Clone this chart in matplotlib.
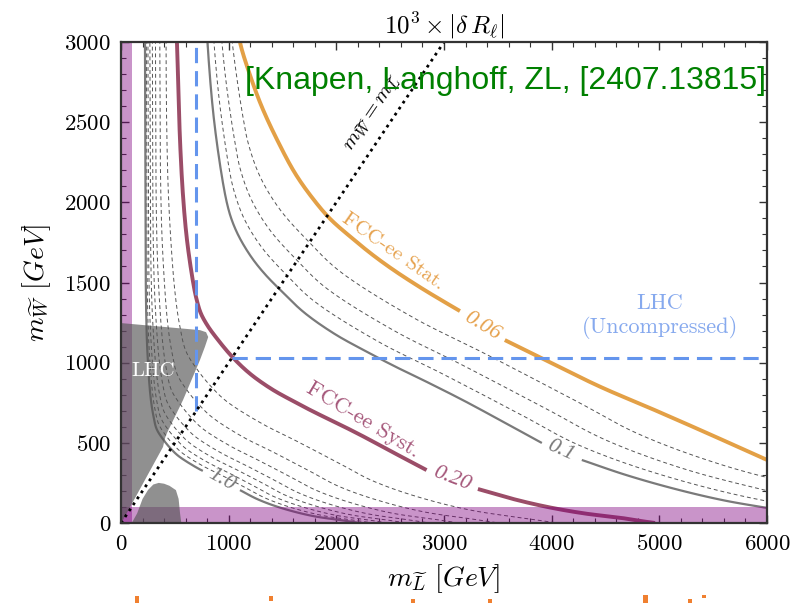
import numpy as np
import matplotlib
matplotlib.use("Agg")
import matplotlib.pyplot as plt
from matplotlib.patches import Polygon, Rectangle
from matplotlib.ticker import MultipleLocator

plt.rcParams['font.family'] = ['cmr10', 'DejaVu Serif']
plt.rcParams['mathtext.fontset'] = 'cm'
plt.rcParams['axes.formatter.use_mathtext'] = True
plt.rcParams['axes.unicode_minus'] = False

# ---------------- data (GeV) ----------------
x_ticks = [0, 1000, 2000, 3000, 4000, 5000, 6000]
y_ticks = [0, 500, 1000, 1500, 2000, 2500, 3000]

# FCC-ee Stat. contour (0.06), split at its label
stat_a = [(1090, 3100), (1105, 3000), (1200, 2790), (1309, 2594), (1450, 2390), (1616, 2182),
          (1780, 2025), (1941, 1898), (2140, 1780), (2340, 1671), (2540, 1574), (2776, 1471),
          (2950, 1400), (3148, 1322)]
stat_b = [(3565, 1141), (3960, 1010), (4450, 850), (4958, 704), (5480, 550), (6000, 393), (6100, 365)]

# FCC-ee Syst. contour (0.20), split at its label
syst_a = [(510, 3200), (520, 3000), (533, 2700), (548, 2388), (575, 2050), (613, 1764), (670, 1500),
          (700, 1400), (740, 1310), (800, 1235), (880, 1160), (1035, 1035), (1200, 930), (1400, 835),
          (1600, 760), (1800, 690), (2000, 625), (2250, 540), (2500, 450), (2838, 330)]
syst_b = [(3315, 212), (3640, 150), (3960, 100), (4300, 60), (4652, 31), (4850, 10), (4960, 0)]

# solid grey contours 0.1 and 1.0, split at their labels
c010_a = [(775, 3377), (813, 2899), (867, 2495), (947, 2121), (993, 1970), (1031, 1886), (1084, 1802),
          (1153, 1718), (1238, 1633), (1341, 1549), (1464, 1464), (1697, 1315), (1980, 1181),
          (2263, 1075), (2546, 976), (2828, 884), (3182, 764), (3536, 636), (3909, 499)]
c010_b = [(4280, 393), (4688, 300), (5148, 212), (5600, 141), (6081, 85)]
c100_a = [(222, 3130), (224, 2683), (227, 2012), (233, 1342), (245, 1068), (274, 789), (300, 671),
          (331, 586), (394, 519), (463, 463), (537, 416), (716, 340), (760, 325)]
c100_b = [(1105, 205), (1269, 148), (1482, 95), (1771, 45), (2080, 14), (2218, 0)]

# dashed grey contours
c007 = [(926, 4036), (972, 3465), (1036, 2982), (1132, 2535), (1187, 2355), (1296, 2154), (1480, 1952),
        (1750, 1750), (2028, 1572), (2704, 1285), (3381, 1056), (4226, 761), (4797, 558), (5603, 358),
        (6694, 169)]
c008 = [(866, 3776), (909, 3241), (969, 2789), (1059, 2371), (1110, 2202), (1212, 2015), (1384, 1826),
        (1637, 1637), (1897, 1470), (2530, 1202), (3162, 988), (3953, 711), (4487, 522), (5241, 335),
        (6261, 158)]
c009 = [(817, 3560), (857, 3056), (914, 2630), (998, 2236), (1047, 2077), (1143, 1899), (1305, 1721),
        (1543, 1543), (1789, 1386), (2385, 1133), (2981, 932), (3727, 671), (4231, 492), (4942, 316),
        (5903, 149), (6935, 46)]
c030 = [(408, 4899), (415, 3674), (425, 2450), (447, 1950), (501, 1440), (547, 1225), (604, 1070),
        (719, 947), (845, 845), (980, 759), (1306, 621), (1633, 510), (2041, 367), (2317, 269),
        (2707, 173), (3233, 82), (3798, 25), (4050, 0)]
c040 = [(354, 4243), (359, 3182), (368, 2121), (387, 1689), (433, 1247), (474, 1061), (523, 926),
        (622, 820), (732, 732), (849, 658), (1131, 537), (1414, 442), (1768, 318), (2007, 233),
        (2344, 150), (2800, 71), (3289, 22), (3507, 0)]
c050 = [(316, 3795), (321, 2846), (329, 1898), (347, 1510), (388, 1116), (424, 949), (468, 829),
        (557, 734), (655, 655), (759, 588), (1012, 481), (1265, 395), (1581, 285), (1795, 209),
        (2097, 134), (2505, 63), (2942, 20), (3137, 0)]
c060 = [(289, 3464), (293, 2598), (300, 1732), (316, 1379), (354, 1019), (387, 866), (427, 756),
        (508, 670), (598, 598), (693, 537), (924, 439), (1155, 361), (1444, 260), (1639, 191),
        (1914, 122), (2286, 58), (2686, 18), (2864, 0)]
c070 = [(267, 3207), (272, 2405), (278, 1604), (293, 1276), (328, 943), (358, 802), (396, 700),
        (470, 620), (553, 553), (641, 497), (855, 406), (1069, 334), (1336, 241), (1517, 176),
        (1772, 113), (2117, 53), (2487, 17), (2651, 0)]
c080 = [(249, 3500), (250, 3000), (254, 2250), (260, 1500), (274, 1194), (307, 882), (335, 750),
        (370, 655), (440, 580), (518, 518), (600, 465), (800, 380), (1000, 313), (1250, 225),
        (1419, 165), (1658, 106), (1980, 50), (2326, 16), (2480, 0)]
c090 = [(234, 3300), (236, 2828), (239, 2121), (245, 1414), (258, 1126), (289, 832), (316, 707),
        (349, 618), (415, 547), (488, 488), (566, 438), (754, 358), (943, 295), (1179, 212),
        (1338, 156), (1563, 100), (1867, 47), (2193, 15), (2338, 0)]

# LHC excluded regions (grey)
lhc_main = [(0, 0), (0, 1247), (733, 1203), (790, 1190), (810, 1160), (780, 1100), (733, 1016),
            (576, 767), (427, 561), (409, 530), (390, 474), (19, 19)]
lhc_low = [(100, 0), (150, 60), (200, 150), (251, 206), (300, 240), (350, 250), (400, 245),
           (450, 232), (510, 205), (535, 150), (548, 62), (560, 0)]

# LHC uncompressed bound (blue dashed): vertical and horizontal legs
lhc_unc_v = [(700, 700), (700, 3000)]
lhc_unc_h = [(1030, 1030), (6000, 1030)]

# purple bands
band_x = 100
band_y = 100

# diagonal m_W = m_L
diag = [(0, 0), (3000, 3000)]

# ---------------- figure ----------------
fig = plt.figure(figsize=(7.93, 6.03), dpi=100)
ax = fig.add_axes([0.1526, 0.1327, 0.8146, 0.7976])
ax.set_xlim(0, 6000)
ax.set_ylim(0, 3000)

SCALE = np.array([646 / 6000, 481 / 3000])


def arr(p):
    a = np.array(p, dtype=float)
    return a[:, 0], a[:, 1]


def smooth(p, n=24):
    """Centripetal Catmull-Rom curve drawn through the read points (rendering only)."""
    Q = np.array(p, dtype=float) * SCALE
    Q = np.vstack([2 * Q[0] - Q[1], Q, 2 * Q[-1] - Q[-2]])
    out = []
    for i in range(1, len(Q) - 2):
        p0, p1, p2, p3 = Q[i - 1], Q[i], Q[i + 1], Q[i + 2]
        t0 = 0.0
        t1 = t0 + np.linalg.norm(p1 - p0) ** 0.5
        t2 = t1 + np.linalg.norm(p2 - p1) ** 0.5
        t3 = t2 + np.linalg.norm(p3 - p2) ** 0.5
        t = np.linspace(t1, t2, n, endpoint=False)[:, None]
        A1 = (t1 - t) / (t1 - t0) * p0 + (t - t0) / (t1 - t0) * p1
        A2 = (t2 - t) / (t2 - t1) * p1 + (t - t1) / (t2 - t1) * p2
        A3 = (t3 - t) / (t3 - t2) * p2 + (t - t2) / (t3 - t2) * p3
        B1 = (t2 - t) / (t2 - t0) * A1 + (t - t0) / (t2 - t0) * A2
        B2 = (t3 - t) / (t3 - t1) * A2 + (t - t1) / (t3 - t1) * A3
        out.append((t2 - t) / (t2 - t1) * B1 + (t - t1) / (t2 - t1) * B2)
    out.append(Q[-2][None])
    R = np.vstack(out) / SCALE
    return R[:, 0], R[:, 1]


dash_kw = dict(color='#555555', lw=0.7, ls=(0, (4, 3)), zorder=2)
for c in (c007, c008, c009, c030, c040, c050, c060, c070, c080, c090):
    ax.plot(*smooth(c), **dash_kw)

solid_kw = dict(color='#7a7a7a', lw=1.6, zorder=2.5, solid_capstyle='butt')
for c in (c010_a, c010_b, c100_a, c100_b):
    ax.plot(*smooth(c), **solid_kw)

for c in (stat_a, stat_b):
    ax.plot(*smooth(c), color='#E3A046', lw=2.8, zorder=3, solid_capstyle='butt')
for c in (syst_a, syst_b):
    ax.plot(*smooth(c), color='#9B4D68', lw=2.8, zorder=3, solid_capstyle='butt')

# purple bands
ax.add_patch(Rectangle((0, 0), band_x, 3000, facecolor='purple', alpha=0.42, lw=0, zorder=4))
ax.add_patch(Rectangle((0, 0), 6000, band_y, facecolor='purple', alpha=0.42, lw=0, zorder=4))

# grey LHC regions
ax.add_patch(Polygon(lhc_main, closed=True, facecolor='#555555', alpha=0.65, lw=0, zorder=5))
ax.add_patch(Polygon(lhc_low, closed=True, facecolor='#555555', alpha=0.65, lw=0, zorder=5))

# blue dashed LHC uncompressed
ax.plot(*arr(lhc_unc_v), color='#6495ED', lw=2.2, ls=(0, (5, 2.6)), zorder=6)
ax.plot(*arr(lhc_unc_h), color='#6495ED', lw=2.2, ls=(0, (5, 2.6)), zorder=6)

# diagonal
ax.plot(*arr(diag), color='black', lw=2.0, ls=(0, (1, 1.6)), zorder=6)

# ---------------- texts ----------------
ax.text(2525, 1695, 'FCC-ee Stat.', color='#E6A24E', fontsize=15, rotation=-35,
        rotation_mode='anchor', ha='center', va='center', zorder=8)
ax.text(3355, 1228, '0.06', color='#E6A24E', fontsize=16, rotation=-31, style='italic',
        family='Liberation Serif', rotation_mode='anchor', ha='center', va='center', zorder=8)
ax.text(2247, 642, 'FCC-ee Syst.', color='#A5577A', fontsize=16, rotation=-31,
        rotation_mode='anchor', ha='center', va='center', zorder=8)
ax.text(3070, 276, '0.20', color='#A5577A', fontsize=16, rotation=-21, style='italic',
        family='Liberation Serif', rotation_mode='anchor', ha='center', va='center', zorder=8)
ax.text(4085, 452, '0.1', color='#7a7a7a', fontsize=16, rotation=-24, style='italic',
        family='Liberation Serif', rotation_mode='anchor', ha='center', va='center', zorder=8)
ax.text(930, 268, '1.0', color='#7a7a7a', fontsize=16, rotation=-29, style='italic',
        family='Liberation Serif', rotation_mode='anchor', ha='center', va='center', zorder=8)
ax.text(297, 950, 'LHC', color='white', fontsize=15, ha='center', va='center', zorder=8)
ax.text(5005, 1290, 'LHC\n(Uncompressed)', color='#86A9EE', fontsize=16, ha='center',
        va='center', linespacing=1.15, zorder=8)
ax.text(2340, 2556, r'$m_{\widetilde{W}} = m_{\widetilde{L}}$', color='black', fontsize=15,
        rotation=56, rotation_mode='anchor', ha='center', va='center', zorder=8)
ax.text(5990, 2706, '[Knapen, Langhoff, ZL, [2407.13815]', family='Liberation Sans',
        fontsize=23, color='#008000', ha='right', va='baseline', zorder=10)

ax.set_title(r'$10^3\times|\delta\,R_\ell|$', fontsize=18, pad=6)
ax.set_xlabel(r'$m_{\widetilde{L}}\ [GeV]$', fontsize=20, labelpad=6)
ax.set_ylabel(r'$m_{\widetilde{W}}\ [GeV]$', fontsize=20, labelpad=8)

ax.set_xticks(x_ticks)
ax.set_yticks(y_ticks)
ax.xaxis.set_minor_locator(MultipleLocator(200))
ax.yaxis.set_minor_locator(MultipleLocator(100))
ax.tick_params(which='both', direction='in', top=True, right=True, color='#333333')
ax.tick_params(which='major', length=6, width=1.0, labelsize=16.5)
ax.tick_params(axis='x', which='major', pad=8)
ax.tick_params(axis='y', which='major', pad=7)
ax.tick_params(which='minor', length=3.5, width=0.8)
for s in ax.spines.values():
    s.set_linewidth(1.6)
    s.set_color('#333333')
    s.set_zorder(9)

# cut-off orange marks along the bottom edge of the image (pixels)
marks = [(135, 596, 4, 7), (269, 596, 3.5, 5), (411, 599, 4, 4), (488, 599, 3.5, 4),
         (643, 595, 4.5, 8), (688, 599, 3.5, 4), (702, 595, 4, 3)]
W, H = 793, 603
for (mx, my, mw, mh) in marks:
    fig.patches.append(Rectangle((mx / W, 1 - (my + mh) / H), mw / W, mh / H,
                                 transform=fig.transFigure, facecolor='#F08030', lw=0))

fig.savefig('out.png', dpi=100)
